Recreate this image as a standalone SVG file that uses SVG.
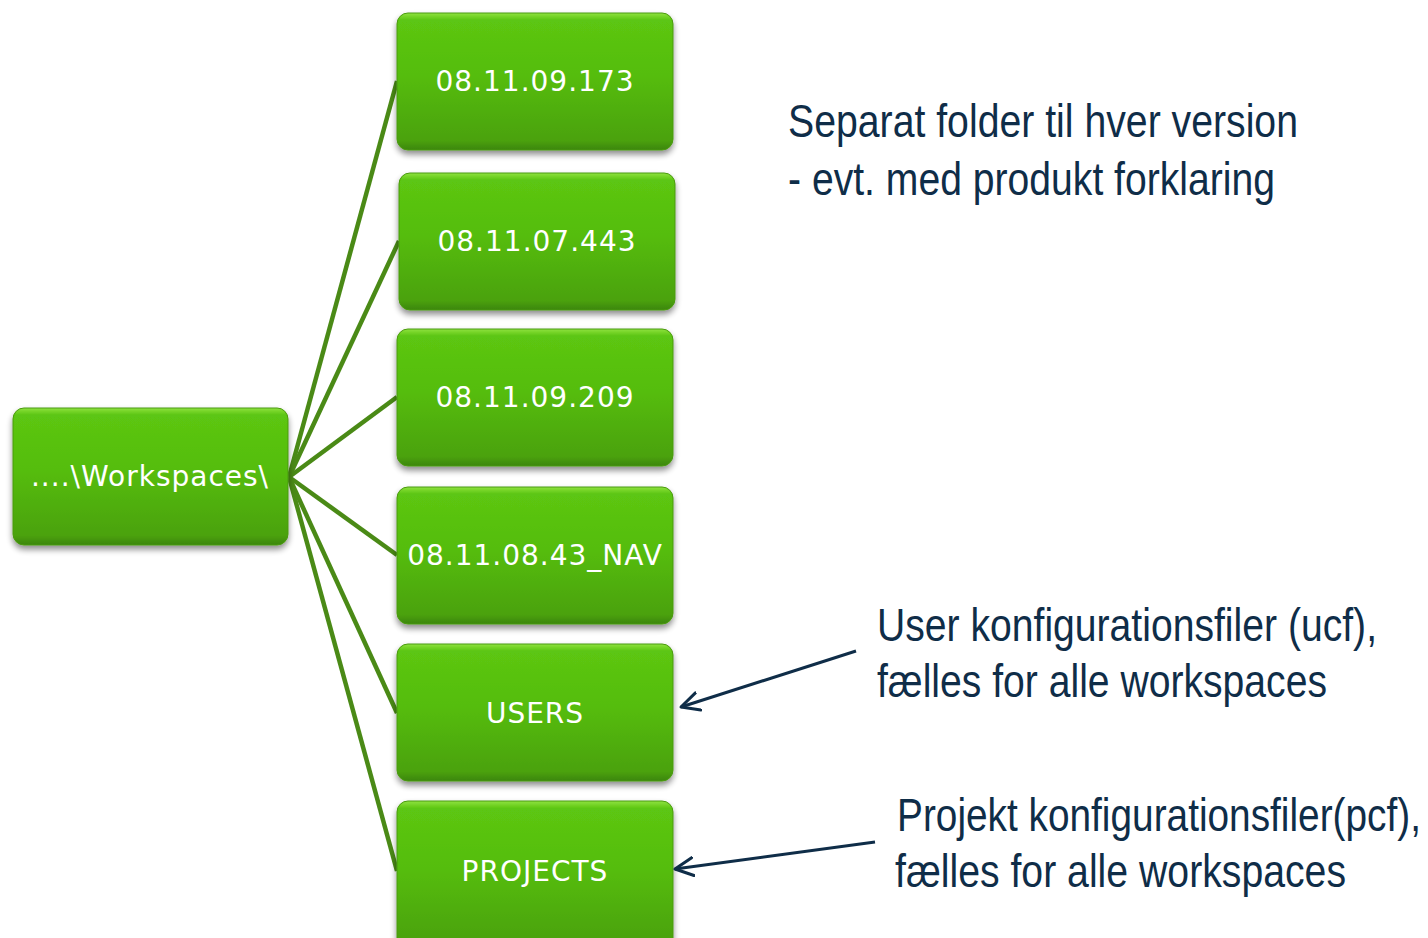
<svg xmlns="http://www.w3.org/2000/svg" width="1428" height="938" viewBox="0 0 1428 938">
  <defs>
    <linearGradient id="boxFill" x1="0" y1="0" x2="0" y2="1">
      <stop offset="0" stop-color="#8fe23f"/>
      <stop offset="0.05" stop-color="#5cc612"/>
      <stop offset="0.45" stop-color="#55bd0e"/>
      <stop offset="0.93" stop-color="#4ba20c"/>
      <stop offset="1" stop-color="#3c860a"/>
    </linearGradient>
    <filter id="shadow" x="-10%" y="-10%" width="120%" height="130%">
      <feGaussianBlur in="SourceAlpha" stdDeviation="3"/>
      <feOffset dx="0" dy="4" result="b"/>
      <feComponentTransfer><feFuncA type="linear" slope="0.45"/></feComponentTransfer>
      <feMerge><feMergeNode/><feMergeNode in="SourceGraphic"/></feMerge>
    </filter>
    <marker id="openArrow" markerWidth="24" markerHeight="24" refX="19" refY="12" orient="auto" markerUnits="userSpaceOnUse">
      <path d="M1,3 L19,12 L1,21" fill="none" stroke="#0f2d48" stroke-width="3" stroke-linecap="round" stroke-linejoin="round"/>
    </marker>
  </defs>
  <style>
    .box { fill: url(#boxFill); stroke: #4a9a10; stroke-width: 1; filter: url(#shadow); }
    .lbl { font-family: "DejaVu Sans", "Verdana", sans-serif; font-size: 28px; fill: #ffffff; text-anchor: middle; letter-spacing: 1px; }
    .note { font-family: "Liberation Sans", Arial, sans-serif; font-size: 47px; fill: #0f2d48; }
    .link { stroke: #4a8a16; stroke-width: 4.5; fill: none; }
    .callout { stroke: #0f2d48; stroke-width: 3; fill: none; marker-end: url(#openArrow); }
  </style>

  <rect width="1428" height="938" fill="#ffffff"/>

  <!-- tree links from the root folder to each subfolder -->
  <g id="connectors">
    <line class="link" x1="289" y1="477" x2="397" y2="81"/>
    <line class="link" x1="289" y1="477" x2="399" y2="241"/>
    <line class="link" x1="289" y1="477" x2="397" y2="397"/>
    <line class="link" x1="289" y1="477" x2="397" y2="555"/>
    <line class="link" x1="289" y1="477" x2="397" y2="713"/>
    <line class="link" x1="289" y1="477" x2="397" y2="871"/>
  </g>

  <g id="root">
    <rect class="box" x="13" y="408" width="275" height="137" rx="11"/>
    <text class="lbl" x="150" y="486" letter-spacing="0">....\Workspaces\</text>
  </g>
  <g id="v173">
    <rect class="box" x="397" y="13" width="276" height="137" rx="11"/>
    <text class="lbl" x="535" y="91">08.11.09.173</text>
  </g>
  <g id="v443">
    <rect class="box" x="399" y="173" width="276" height="137" rx="11"/>
    <text class="lbl" x="537" y="251">08.11.07.443</text>
  </g>
  <g id="v209">
    <rect class="box" x="397" y="329" width="276" height="137" rx="11"/>
    <text class="lbl" x="535" y="407">08.11.09.209</text>
  </g>
  <g id="vnav">
    <rect class="box" x="397" y="487" width="276" height="137" rx="11"/>
    <text class="lbl" x="535" y="565" letter-spacing="0.5">08.11.08.43_NAV</text>
  </g>
  <g id="users">
    <rect class="box" x="397" y="644" width="276" height="137" rx="11"/>
    <text class="lbl" x="535" y="723">USERS</text>
  </g>
  <g id="projects">
    <rect class="box" x="397" y="801" width="276" height="150" rx="11"/>
    <text class="lbl" x="535" y="881">PROJECTS</text>
  </g>

  <!-- callout arrows pointing at the shared folders -->
  <g id="callouts">
    <line class="callout" x1="856" y1="651" x2="681" y2="707"/>
    <line class="callout" x1="875" y1="842" x2="675" y2="869"/>
  </g>

  <g id="notes">
    <text class="note" x="788" y="137" textLength="510" lengthAdjust="spacingAndGlyphs">Separat folder til hver version</text>
    <text class="note" x="788" y="195" textLength="487" lengthAdjust="spacingAndGlyphs">- evt. med produkt forklaring</text>
    <text class="note" x="877" y="641" textLength="500" lengthAdjust="spacingAndGlyphs">User konfigurationsfiler (ucf),</text>
    <text class="note" x="877" y="697" textLength="450" lengthAdjust="spacingAndGlyphs">fælles for alle workspaces</text>
    <text class="note" x="897" y="831" textLength="524" lengthAdjust="spacingAndGlyphs">Projekt konfigurationsfiler(pcf),</text>
    <text class="note" x="895" y="887" textLength="451" lengthAdjust="spacingAndGlyphs">fælles for alle workspaces</text>
  </g>
</svg>
